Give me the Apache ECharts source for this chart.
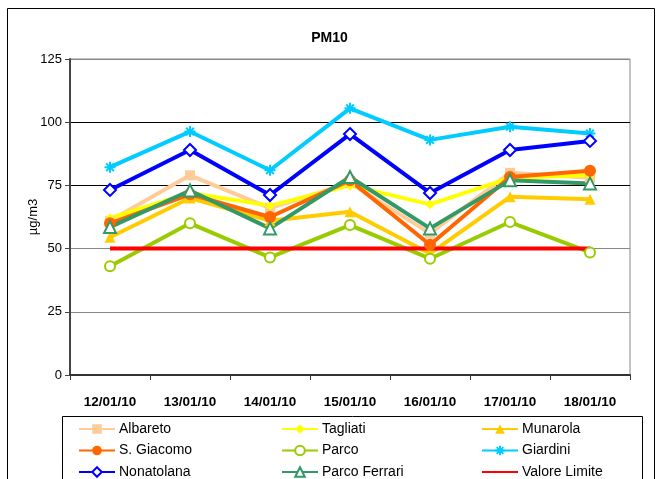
<!DOCTYPE html>
<html>
<head>
<meta charset="utf-8">
<script src="https://cdn.jsdelivr.net/npm/echarts@6/dist/echarts.min.js"></script>
<style>html,body{margin:0;padding:0;background:#fff}#c{width:659px;height:479px}</style>
</head>
<body>
<div id="c"></div>
<script>
var categories = ['12/01/10','13/01/10','14/01/10','15/01/10','16/01/10','17/01/10','18/01/10'];
var yTicks = [0, 25, 50, 75, 100, 125];
var albareto     = [61, 79, 66, 76, 56, 80, 78];
var tagliati     = [62, 72, 67, 75, 67.5, 78, 79];
var munarola     = [54.5, 70, 61, 64.6, 48, 70.5, 69.5];
var sGiacomo     = [60, 71.5, 62.5, 77, 51.5, 78.3, 80.8];
var parco        = [43, 60, 46.5, 59.3, 46, 60.5, 48.5];
var giardini     = [82.2, 96.3, 81, 105.5, 93, 98.2, 95.5];
var nonatolana   = [73.2, 89, 71.2, 95.3, 72, 89, 92.6];
var parcoFerrari = [58.5, 73, 58, 78.3, 58, 77, 75.8];
var valoreLimite = [50, 50, 50, 50, 50, 50, 50];

var star = 'path://M0 5 L10 5 M5 0 L5 10 M1.5 1.5 L8.5 8.5 M8.5 1.5 L1.5 8.5';

function mk(name, data, color, symbol, size, empty) {
  return {
    name: name, type: 'line', data: data,
    symbol: symbol, symbolSize: size, showSymbol: symbol !== 'none',
    lineStyle: {color: color, width: 4},
    itemStyle: {color: empty ? '#fff' : color, borderColor: color, borderWidth: empty ? 2 : 0},
    emphasis: {disabled: true},
    animation: false, z: 2
  };
}

var series = [
  mk('Albareto', albareto, '#FFCC99', 'rect', 10, false),
  mk('Tagliati', tagliati, '#FFFF00', 'diamond', 10, false),
  mk('Munarola', munarola, '#FFCC00', 'triangle', 11, false),
  mk('S. Giacomo', sGiacomo, '#FF6600', 'circle', 12, false),
  mk('Parco', parco, '#99CC00', 'circle', 10, true),
  mk('Giardini', giardini, '#00CCFF', star, 11, false),
  mk('Nonatolana', nonatolana, '#0000FF', 'diamond', 12, true),
  mk('Parco Ferrari', parcoFerrari, '#339966', 'triangle', 12, true),
  mk('Valore Limite', valoreLimite, '#FF0000', 'none', 0, false)
];
series[5].itemStyle = {color: 'rgba(0,0,0,0)', borderColor: '#00CCFF', borderWidth: 2};

var FONT = 'Liberation Sans, Arial';

function makeLegend(names, left) {
  return {
    data: names.map(function (n) {
      return n === 'Valore Limite' ? {name: n, itemStyle: {opacity: 0}} : {name: n};
    }),
    orient: 'vertical', left: left, top: 422, height: 120, padding: 0,
    itemWidth: 36, itemHeight: 12, itemGap: 7.5,
    textStyle: {fontFamily: FONT, fontSize: 14, color: '#000', padding: [0, 0, 0, -1]},
    selectedMode: false
  };
}

var chart = echarts.init(document.getElementById('c'), null, {renderer: 'canvas'});
chart.setOption({
  backgroundColor: '#fff',
  animation: false,
  title: {
    text: 'PM10', left: 'center', top: 26,
    textStyle: {fontFamily: FONT, fontSize: 14, fontWeight: 'bold', color: '#000'}
  },
  grid: {left: 70, right: 29, top: 59, bottom: 104, show: true, borderColor: '#888', borderWidth: 1, backgroundColor: '#fff'},
  xAxis: {
    type: 'category', data: categories, boundaryGap: true,
    axisLine: {lineStyle: {color: '#333', width: 2}},
    axisTick: {show: true, length: 5, lineStyle: {color: '#333'}},
    axisLabel: {fontFamily: FONT, fontSize: 13.5, fontWeight: 'bold', color: '#000', margin: 20},
    splitLine: {show: false}
  },
  yAxis: {
    type: 'value', min: yTicks[0], max: yTicks[yTicks.length - 1], interval: 25,
    name: 'µg/m3', nameLocation: 'middle', nameGap: 30, nameRotate: 90, nameMoveOverlap: false,
    nameTextStyle: {fontFamily: FONT, fontSize: 13, color: '#000'},
    axisLine: {show: true, lineStyle: {color: '#444', width: 2}},
    axisTick: {show: true, length: 5, lineStyle: {color: '#444'}},
    axisLabel: {fontFamily: FONT, fontSize: 13, color: '#000', margin: 8},
    splitLine: {show: true, lineStyle: {color: ['#888', '#888', '#888', '#000', '#000', '#888'], width: 1}}
  },
  legend: [
    makeLegend(['Albareto', 'S. Giacomo', 'Nonatolana'], 78),
    makeLegend(['Tagliati', 'Parco', 'Parco Ferrari'], 281),
    makeLegend(['Munarola', 'Giardini', 'Valore Limite'], 481)
  ],
  graphic: [
    {type: 'rect', shape: {x: 7.5, y: 8.5, width: 647, height: 500}, style: {fill: 'none', stroke: '#000', lineWidth: 1}, silent: true, z: -10},
    {type: 'rect', shape: {x: 62.5, y: 416.5, width: 580, height: 80}, style: {fill: 'none', stroke: '#000', lineWidth: 1}, silent: true, z: -10}
  ],
  series: series
});
</script>
</body>
</html>
